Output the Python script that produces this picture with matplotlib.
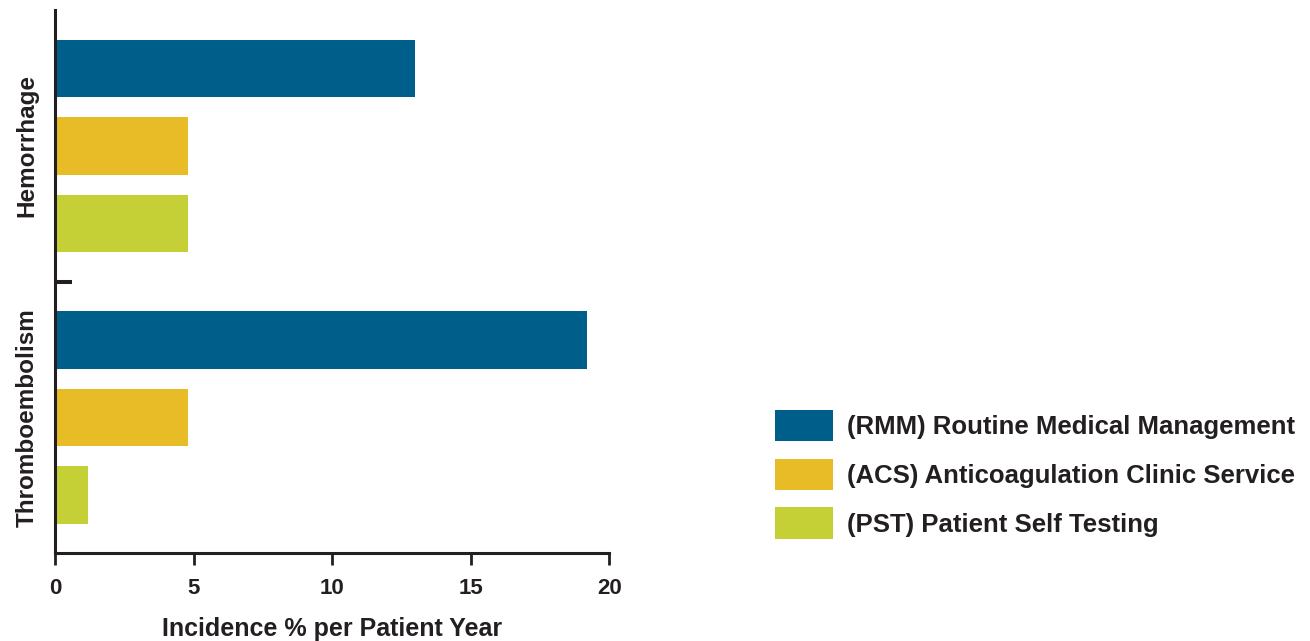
import matplotlib
matplotlib.use("Agg")
import matplotlib.pyplot as plt
from matplotlib.patches import Patch
import numpy as np

# incidence per patient year, by outcome and management model
categories = ["Hemorrhage", "Thromboembolism"]
series_names = [
    "(RMM) Routine Medical Management",
    "(ACS) Anticoagulation Clinic Service",
    "(PST) Patient Self Testing",
]
rmm = [13.0, 19.2]
acs = [4.8, 4.8]
pst = [4.8, 1.2]
x_ticks = [0, 5, 10, 15, 20]

COLORS = ["#005F8A", "#E8BC26", "#C5D036"]
INK = "#231F20"

plt.rcParams["font.family"] = ["Liberation Sans", "DejaVu Sans"]
plt.rcParams["font.weight"] = "bold"
plt.rcParams["axes.labelweight"] = "bold"

fig = plt.figure(figsize=(13.1, 6.41), dpi=100)
ax = fig.add_axes([0.042, 0.137, 0.423, 0.847])

pitch = 2 / 7
height = 0.2125
y = np.arange(len(categories))
for i, (vals, color) in enumerate(zip([rmm, acs, pst], COLORS)):
    ax.barh(y + (i - 1) * pitch, vals, height=height, color=color, label=series_names[i])

ax.set_ylim(1.5, -0.5)
ax.set_xlim(0, 20)

for side in ["top", "right"]:
    ax.spines[side].set_visible(False)
for side in ["left", "bottom"]:
    ax.spines[side].set_linewidth(2.2)
    ax.spines[side].set_color(INK)

ax.set_xticks(x_ticks)
ax.set_xticklabels([str(t) for t in x_ticks])
ax.tick_params(axis="x", direction="out", length=8.6, width=2, color=INK,
               labelsize=16, labelcolor=INK, pad=9)

ax.set_yticks(y)
ax.set_yticklabels(categories, rotation=90, va="center", fontsize=17.5, color=INK)
ax.tick_params(axis="y", which="major", length=0, pad=12)
ax.set_yticks([0.5], minor=True)
ax.tick_params(axis="y", which="minor", direction="in", length=12, width=2.9, color=INK)

ax.set_xlabel("Incidence % per Patient Year", fontsize=18, color=INK, labelpad=13)

handles = [Patch(facecolor=c, edgecolor="none") for c in COLORS]
fig.legend(handles, series_names, loc="center left", bbox_to_anchor=(0.5838, 0.26),
           frameon=False, fontsize=18.5, handlelength=2.26, handleheight=1.5,
           handletextpad=0.55, labelspacing=0.68, borderaxespad=0,
           labelcolor=INK)

fig.savefig("out.png", dpi=100)
